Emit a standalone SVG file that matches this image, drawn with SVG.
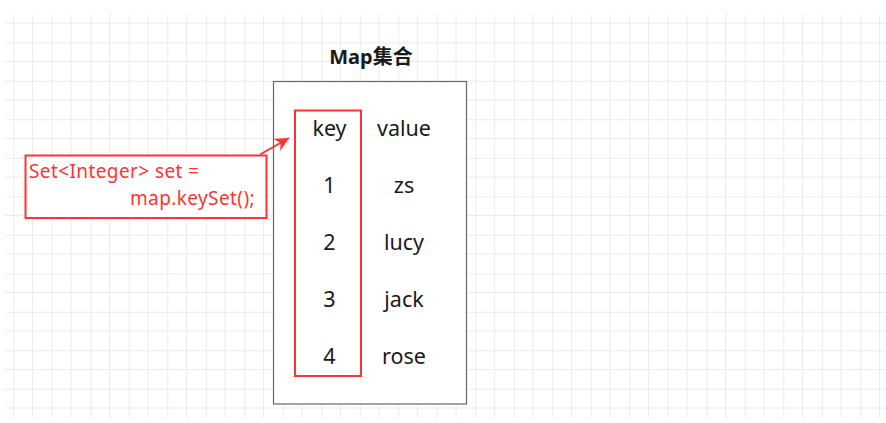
<svg xmlns="http://www.w3.org/2000/svg" width="886" height="423" viewBox="0 0 886 423">
  <defs>
    <pattern id="grid" patternUnits="userSpaceOnUse" x="13.3" y="42.3" width="38.5" height="38.5">
      <line x1="19.25" y1="0" x2="19.25" y2="38.5" stroke="#EBEBEB" stroke-width="1"/>
      <line x1="0" y1="19.25" x2="38.5" y2="19.25" stroke="#EBEBEB" stroke-width="1"/>
      <line x1="0" y1="0" x2="0" y2="38.5" stroke="#DADADA" stroke-width="1"/>
      <line x1="0" y1="0" x2="38.5" y2="0" stroke="#DADADA" stroke-width="1"/>
    </pattern>
    <marker id="arrow" markerUnits="userSpaceOnUse" markerWidth="14" markerHeight="14" refX="10" refY="5" orient="auto" viewBox="0 0 10 10">
      <path d="M0,0 L10,5 L0,10 L3,5 Z" fill="#FF3333"/>
    </marker>
  </defs>
  <style>
    .t { font-family: "Noto Sans", "Noto Sans CJK SC", sans-serif; }
    .cell { font-size: 21.5px; fill: #1a1a1a; text-anchor: middle; }
    .code { font-size: 19px; fill: #FF3333; letter-spacing: 0.4px; }
  </style>
  <rect x="0" y="0" width="886" height="423" fill="#FFFFFF"/>
  <rect x="5" y="14" width="881" height="404" fill="url(#grid)"/>

  <g id="title">
    <text class="t" x="371" y="64" font-size="20" font-weight="bold" text-anchor="middle" fill="#1a1a1a">Map集合</text>
  </g>

  <g id="map">
    <rect x="273.5" y="81.5" width="193" height="322.5" fill="#FFFFFF" stroke="#666666" stroke-width="1.2"/>
  </g>

  <g id="keys">
    <rect x="295" y="110.5" width="66" height="265.5" fill="none" stroke="#FF3333" stroke-width="2"/>
    <text class="t cell" x="329.5" y="136">key</text>
    <text class="t cell" x="329.5" y="193">1</text>
    <text class="t cell" x="329.5" y="250">2</text>
    <text class="t cell" x="329.5" y="307">3</text>
    <text class="t cell" x="329.5" y="364">4</text>
  </g>

  <g id="values">
    <text class="t cell" x="404" y="136">value</text>
    <text class="t cell" x="404" y="193">zs</text>
    <text class="t cell" x="404" y="250">lucy</text>
    <text class="t cell" x="404" y="307">jack</text>
    <text class="t cell" x="404" y="364">rose</text>
  </g>

  <g id="code">
    <rect x="25.5" y="155.5" width="241" height="62.5" fill="#FFFFFF" stroke="#FF3333" stroke-width="2"/>
    <text class="t code" x="29" y="178">Set&lt;Integer&gt; set =</text>
    <text class="t code" x="255" y="205" text-anchor="end">map.keySet();</text>
  </g>

  <g id="connectors">
    <line x1="260" y1="154.5" x2="289" y2="138" stroke="#FF3333" stroke-width="2" marker-end="url(#arrow)"/>
  </g>
</svg>
